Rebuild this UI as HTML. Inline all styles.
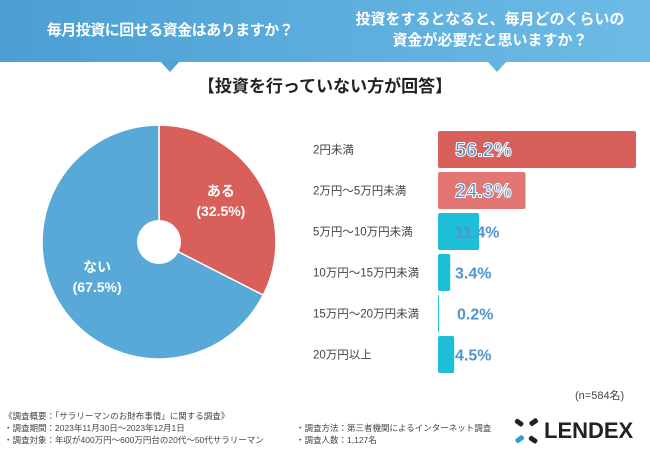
<!DOCTYPE html>
<html><head><meta charset="utf-8"><style>
body{margin:0;width:650px;height:450px;overflow:hidden;background:#fff;font-family:"Liberation Sans","Noto Sans CJK JP",sans-serif;position:relative}
.hdr{position:absolute;left:0;top:0;width:650px;height:62px;background:linear-gradient(90deg,#4b9fd3,#6dbbe6)}
.abs{position:absolute}
</style></head><body>
<div class="hdr"></div>
<svg class="abs" style="left:0;top:0" width="650" height="80">
<polygon points="160,61 180,61 170,72" fill="#4fa2d5"/><polygon points="487,61 507,61 497,72" fill="#64b3e0"/></svg>
<div class="abs" style="left:10px;top:19px;width:320px;text-align:center;color:#fff;font-size:15px;font-weight:bold;white-space:nowrap;letter-spacing:-0.5px">毎月投資に回せる資金はありますか？</div>
<div class="abs" style="left:340px;top:9px;width:300px;text-align:center;color:#fff;font-size:15px;font-weight:bold;line-height:21px">投資をするとなると、毎月どのくらいの<br>資金が必要だと思いますか？</div>
<div class="abs" style="left:150px;top:72px;width:350px;text-align:center;color:#222;font-size:17px;font-weight:bold">【投資を行っていない方が回答】</div>
<svg id="chart" class="abs" style="left:0;top:0" width="650" height="450"></svg>
<div class="abs" style="left:575px;top:387px;font-size:11px;color:#444">(n=584名)</div>
<div class="abs" style="left:4px;top:410px;font-size:8.5px;color:#444;line-height:12px">《調査概要：「サラリーマンのお財布事情」に関する調査》<br>・調査期間：2023年11月30日～2023年12月1日<br>・調査対象：年収が400万円～600万円台の20代～50代サラリーマン</div>
<div class="abs" style="left:296px;top:422px;font-size:8.5px;color:#444;line-height:12px">・調査方法：第三者機関によるインターネット調査<br>・調査人数：1,127名</div>
<svg class="abs" style="left:512px;top:418px" width="30" height="28">
<rect x="3" y="2" width="9" height="5" rx="2" transform="rotate(35 7 4)" fill="#222"/><rect x="17" y="2" width="9" height="5" rx="2" transform="rotate(-35 21 4)" fill="#222"/>
<rect x="3" y="19" width="9" height="5" rx="2" transform="rotate(-35 7 21)" fill="#2a9fd8"/><rect x="17" y="19" width="9" height="5" rx="2" transform="rotate(35 21 21)" fill="#222"/></svg>
<div class="abs" style="left:544px;top:418px;font-size:22px;font-weight:bold;color:#222;letter-spacing:0px">LENDEX</div>
<script>
const pieLabels=["ある","ない"];
const pieValues=[32.5,67.5];
const barCats=["2円未満","2万円～5万円未満","5万円～10万円未満","10万円～15万円未満","15万円～20万円未満","20万円以上"];
const barValues=[56.2,24.3,11.4,3.4,0.2,4.5];
const NS="http://www.w3.org/2000/svg";
const svg=document.getElementById('chart');
function mk(t,a){const e=document.createElementNS(NS,t);for(const k in a)e.setAttribute(k,a[k]);svg.appendChild(e);return e;}
const cx=159,cy=242,r=117,hole=22;
const pieColors=["#d9605a","#58a9d7"];
const tot=pieValues.reduce((a,b)=>a+b,0);
let ang=-Math.PI/2;
pieValues.forEach((v,i)=>{
 const a2=ang+v/tot*2*Math.PI;
 const large=(a2-ang)>Math.PI?1:0;
 const p=mk('path',{d:`M${cx},${cy} L${cx+r*Math.cos(ang)},${cy+r*Math.sin(ang)} A${r},${r} 0 ${large} 1 ${cx+r*Math.cos(a2)},${cy+r*Math.sin(a2)} Z`,fill:pieColors[i],stroke:'#fff','stroke-width':1.5});
 
 
 const mid=(ang+a2)/2,lr=r*0.62;
 const lx=cx+lr*Math.cos(mid),ly=cy+lr*Math.sin(mid);
 [[pieLabels[i],ly-8],["("+v.toFixed(1)+"%)",ly+12]].forEach(([s,y])=>{
  const t=mk('text',{x:lx,y:y,'text-anchor':'middle','font-size':14,fill:'#fff','font-weight':'bold'});
  t.textContent=s;
  
  
 });
 ang=a2;
});
const h=mk('circle',{cx:cx,cy:cy,r:hole,fill:'#fff'});


const x0=438,scale=3.6,rowTop=131,step=41,bh=37;
const barColors=["#d9605a","#e27672","#1cbfd6","#1cbfd6","#1cbfd6","#1cbfd6"];
barCats.forEach((c,i)=>{
 const y=rowTop+i*step,w=Math.min(barValues[i]*scale,636-x0);
 const b=mk('rect',{x:x0,y:y,width:Math.max(w,1),height:bh,rx:2,fill:barColors[i]});
 
 
 const l=mk('text',{x:313,y:y+bh/2+4,'font-size':11.5,fill:'#444'});
 l.textContent=c;
 
 
 const big=i<2;
 const v=mk('text',{x:x0+(i===4?19:17),y:y+bh/2+(big?7:6),'font-size':big?20:16,'font-weight':'bold',fill:'#4f95cf',stroke:big?'#fff':'none','stroke-width':big?1:0});
 v.textContent=barValues[i].toFixed(1)+"%";
 
 
});
</script>
</body></html>
